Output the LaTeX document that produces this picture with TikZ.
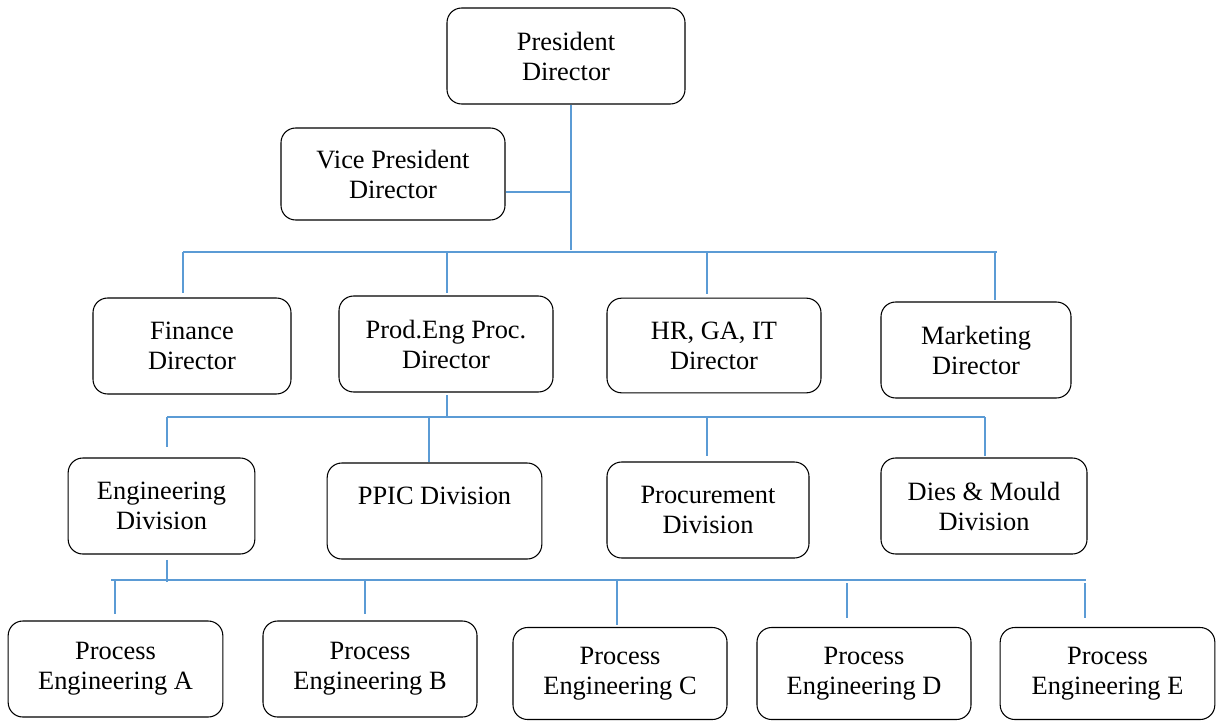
\documentclass[tikz,border=0pt]{standalone}
\usepackage{fontspec}
\setmainfont{Liberation Serif}
\definecolor{connblue}{RGB}{91,155,213}
\begin{document}
\begin{tikzpicture}[x=0.75pt,y=-0.75pt,
  box/.style={draw=black, line width=0.8pt, rounded corners=11pt, inner sep=0pt,
    align=center, font=\fontsize{19.8}{22.5}\selectfont},
  conn/.style={draw=connblue, line width=1pt}]
\useasboundingbox (0,0) rectangle (1219,720);
% boxes
\node[box, minimum width=178.5pt, minimum height=72pt] (pres) at (566,56) {President\\Director};
\node[box, minimum width=168pt, minimum height=69pt] (vp) at (393,174) {Vice President\\Director};
\node[box, minimum width=148.5pt, minimum height=72pt] (fin) at (192,346) {Finance\\Director};
\node[box, minimum width=160.5pt, minimum height=72pt] (prod) at (446,344) {Prod.Eng Proc.\\Director};
\node[box, minimum width=160.5pt, minimum height=71pt] (hr) at (714,345.5) {HR, GA, IT\\Director};
\node[box, minimum width=142.5pt, minimum height=72pt] (mkt) at (976,350) {Marketing\\Director};
\node[box, minimum width=140pt, minimum height=72pt] (eng) at (161.5,506) {Engineering\\Division};
\node[box, minimum width=161pt, minimum height=72pt] (ppic) at (434.5,511) {PPIC Division\\\mbox{}};
\node[box, minimum width=151.5pt, minimum height=72pt] (proc) at (708,510) {Procurement\\Division};
\node[box, minimum width=154.5pt, minimum height=72pt] (dies) at (984,506) {Dies \& Mould\\Division};
\node[box, minimum width=161pt, minimum height=72pt] (pa) at (115.5,669) {Process\\Engineering A};
\node[box, minimum width=160.5pt, minimum height=72pt] (pb) at (370,669) {Process\\Engineering B};
\node[box, minimum width=160.5pt, minimum height=69pt] (pc) at (620,673.5) {Process\\Engineering C};
\node[box, minimum width=160.5pt, minimum height=69pt] (pd) at (864,673.5) {Process\\Engineering D};
\node[box, minimum width=161pt, minimum height=69pt] (pe) at (1107.5,673.5) {Process\\Engineering E};
% level 1 bus
\coordinate (t1) at (571,250);
\coordinate (vpj) at (571,192);
\coordinate (h1L) at (183,252);
\coordinate (h1R) at (997,252);
\coordinate (d1b) at (447,252);
\coordinate (d1c) at (707,252);
\coordinate (d1d) at (995,252);
\draw[conn] (t1 |- pres.south) -- (t1);
\draw[conn] (vpj -| vp.east) -- (vpj);
\draw[conn] (h1L) -- (h1R);
\draw[conn, shorten >=3pt] (h1L) -- (h1L |- fin.north);
\draw[conn, shorten >=1.5pt] (d1b) -- (d1b |- prod.north);
\draw[conn, shorten >=3pt] (d1c) -- (d1c |- hr.north);
\draw[conn, shorten >=1pt] (d1d) -- (d1d |- mkt.north);
% level 2 bus
\coordinate (t2) at (447,417);
\coordinate (h2L) at (167,417);
\coordinate (h2R) at (985,417);
\coordinate (d2b) at (429,417);
\coordinate (d2c) at (707,417);
\draw[conn, shorten <=2pt] (t2 |- prod.south) -- (t2);
\draw[conn] (h2L) -- (h2R);
\draw[conn, shorten >=8pt] (h2L) -- (h2L |- eng.north);
\draw[conn] (d2b) -- (d2b |- ppic.north);
\draw[conn, shorten >=3.75pt] (d2c) -- (d2c |- proc.north);
\draw[conn, shorten >=1pt] (h2R) -- (h2R |- dies.north);
% level 3 bus
\coordinate (t3) at (167,582);
\coordinate (h3L) at (111,580);
\coordinate (h3R) at (1086,580);
\coordinate (d3a) at (115,580);
\coordinate (d3b) at (365,580);
\coordinate (d3c) at (617,580);
\coordinate (d3d) at (847,583);
\coordinate (d3e) at (1085,583);
\draw[conn, shorten <=4pt] (t3 |- eng.south) -- (t3);
\draw[conn] (h3L) -- (h3R);
\draw[conn, shorten >=4.5pt] (d3a) -- (d3a |- pa.north);
\draw[conn, shorten >=4.5pt] (d3b) -- (d3b |- pb.north);
\draw[conn, shorten >=1.5pt] (d3c) -- (d3c |- pc.north);
\draw[conn, shorten >=6.75pt] (d3d) -- (d3d |- pd.north);
\draw[conn, shorten >=6.75pt] (d3e) -- (d3e |- pe.north);
\end{tikzpicture}
\end{document}
